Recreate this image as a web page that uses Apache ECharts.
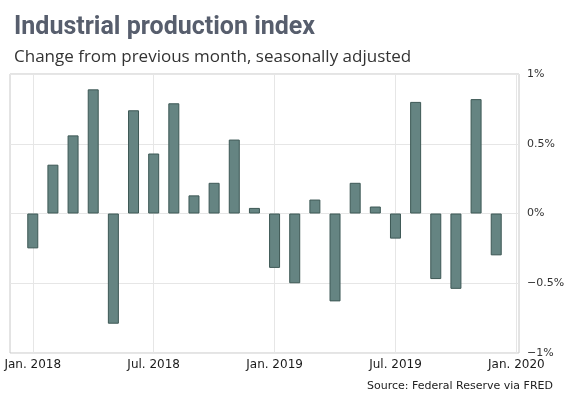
<!DOCTYPE html>
<html>
<head>
<meta charset="utf-8">
<script src="https://cdn.jsdelivr.net/npm/echarts@6/dist/echarts.min.js"></script>
<style>
  html, body { margin: 0; padding: 0; background: #fff; }
  #Chart { width: 569px; height: 398px; }
</style>
</head>
<body>
<div id="Chart"></div>
<script>
// monthly change, Jan 2018 .. Dec 2019
var months = ['2018-01', '2018-02', '2018-03', '2018-04', '2018-05', '2018-06',
              '2018-07', '2018-08', '2018-09', '2018-10', '2018-11', '2018-12',
              '2019-01', '2019-02', '2019-03', '2019-04', '2019-05', '2019-06',
              '2019-07', '2019-08', '2019-09', '2019-10', '2019-11', '2019-12'];
var changes = [-0.25, 0.35, 0.56, 0.89, -0.79, 0.74, 0.43, 0.79, 0.13, 0.22, 0.53, 0.04,
               -0.39, -0.50, 0.10, -0.63, 0.22, 0.05, -0.18, 0.80, -0.47, -0.54, 0.82, -0.30];
// x tick positions (month index from Jan 2018) and their labels
var xTicks = [0, 6, 12, 18, 24];
var xTickLabels = ['Jan. 2018', 'Jul. 2018', 'Jan. 2019', 'Jul. 2019', 'Jan. 2020'];

var Chart = echarts.init(document.getElementById('Chart'));

var barData = months.map(function (m, i) {
    return [i, changes[i]];
});

var ChartOption = {
    animation: false,
    title: [{
        text: 'Industrial production index',
        left: 9,
        top: 10,
        textStyle: {
            fontFamily: 'Roboto',
            fontWeight: 'bold',
            fontSize: 25,
            color: '#575e6d'
        }
    }, {
        text: 'Change from previous month, seasonally adjusted',
        left: 9,
        top: 44,
        textStyle: {
            fontFamily: 'Open Sans',
            fontWeight: 'normal',
            fontSize: 17,
            color: '#333'
        }
    }, {
        text: 'Source: Federal Reserve via FRED',
        right: 11,
        top: 376,
        textStyle: {
            fontFamily: 'DejaVu Sans',
            fontWeight: 'normal',
            fontSize: 11,
            color: '#222'
        }
    }],
    grid: {
        show: true,
        left: 10,
        right: 50,
        top: 74,
        bottom: 45,
        borderColor: '#c8c8c8',
        borderWidth: 1,
        backgroundColor: 'transparent'
    },
    xAxis: {
        type: 'value',
        min: -1.13,
        max: 24.13,
        axisLine: { show: false },
        axisTick: { show: false, customValues: xTicks },
        axisLabel: {
            customValues: xTicks,
            margin: 6,
            fontFamily: 'DejaVu Sans',
            fontSize: 12,
            color: '#1a1a1a',
            formatter: function (v) {
                return xTickLabels[xTicks.indexOf(v)];
            }
        },
        splitLine: { show: true, lineStyle: { color: '#e6e6e6', width: 1 } }
    },
    yAxis: {
        type: 'value',
        position: 'right',
        min: -1,
        max: 1,
        interval: 0.5,
        axisLine: { show: false },
        axisTick: { show: false },
        axisLabel: {
            margin: 8,
            fontFamily: 'DejaVu Sans',
            fontSize: 11,
            color: '#333',
            formatter: function (v) {
                var s = (Math.abs(v)) + '%';
                return v < 0 ? '\u2212' + s : s;
            }
        },
        splitLine: { show: true, lineStyle: { color: '#e6e6e6', width: 1 } }
    },
    series: [{
        type: 'bar',
        data: barData,
        barWidth: 11,
        itemStyle: {
            color: '#658482',
            borderColor: '#3d5855',
            borderWidth: 1
        }
    }]
};

Chart.setOption(ChartOption);
window.addEventListener("resize", function () {
    Chart.resize();
});
</script>
</body>
</html>
